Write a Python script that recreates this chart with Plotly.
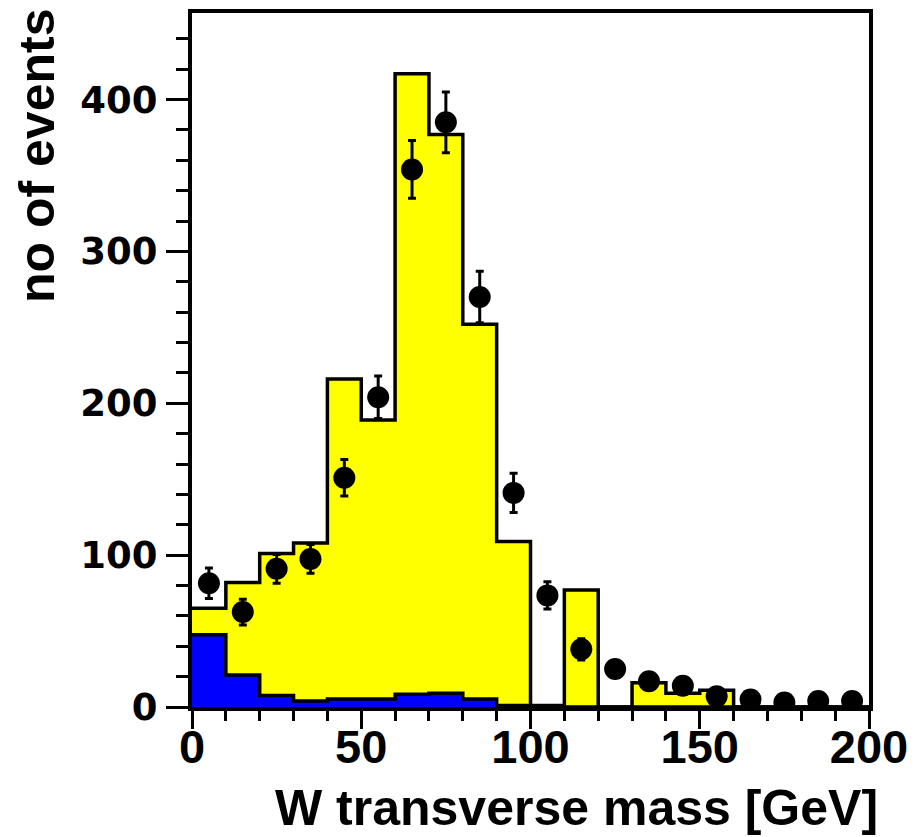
import numpy as np
import plotly.graph_objects as go

# ---- data ----
bin_edges = [0, 10, 20, 30, 40, 50, 60, 70, 80, 90, 100, 110, 120, 130, 140, 150, 160, 170, 180, 190, 200]
mc_total = [65, 82, 101, 108, 216, 189, 417, 377, 252, 109, 1, 77, 0, 16, 9, 11, 0, 0, 0, 0]
mc_background = [47.5, 21, 7.5, 4, 5.3, 5.3, 8.4, 9, 5.3, 1, 0, 0, 0, 0, 0, 0, 0, 0, 0, 0]
data_x = [5, 15, 25, 35, 45, 55, 65, 75, 85, 95, 105, 115, 125, 135, 145, 155, 165, 175, 185, 195]
data_y = [81.5, 62.5, 91, 97.5, 151, 204, 354, 385, 270, 141, 73.5, 38, 25, 17, 14, 7, 5, 3, 4, 4]
data_err = [10, 8.5, 9.5, 9.5, 12, 14, 19, 20, 17, 13, 9, 7, 5, 4, 4, 3, 2, 2, 2, 2]

x_tickvals = [0, 50, 100, 150, 200]
y_tickvals = [0, 100, 200, 300, 400]

def step(vals):
    return list(vals) + [vals[-1]]

fig = go.Figure()
fig.add_trace(go.Scatter(
    x=bin_edges, y=step(mc_total), mode="lines", line=dict(shape="hv", color="black", width=3.5),
    fill="tozeroy", fillcolor="#FFFF00", showlegend=False, hoverinfo="skip"))
fig.add_trace(go.Scatter(
    x=bin_edges, y=step(mc_background), mode="lines", line=dict(shape="hv", color="black", width=3.5),
    fill="tozeroy", fillcolor="#0000FF", showlegend=False, hoverinfo="skip"))
fig.add_trace(go.Scatter(
    x=data_x, y=data_y, mode="markers",
    marker=dict(color="black", size=22, symbol="circle"),
    error_y=dict(type="data", array=data_err, color="black", thickness=3, width=4),
    showlegend=False))

xtickfont = dict(family="Liberation Sans, Arial, sans-serif", size=47, color="black", weight="bold")
ytickfont = dict(family="DejaVu Sans, sans-serif", size=37, color="black", weight="bold")
titlefont = dict(family="Liberation Sans, Arial, sans-serif", size=50, color="black", weight="bold")

fig.update_layout(
    width=917, height=837,
    margin=dict(l=192, r=48, t=13, b=130),
    paper_bgcolor="white", plot_bgcolor="white",
    xaxis=dict(range=[0, 200], tickvals=x_tickvals, ticktext=[str(v) for v in x_tickvals],
               ticks="outside", ticklen=18, tickwidth=3, tickcolor="black",
               minor=dict(dtick=10, ticks="outside", ticklen=10, tickwidth=3, tickcolor="black"),
               showline=True, linewidth=4, linecolor="black", mirror=True, automargin=False,
               showgrid=False, zeroline=False, tickfont=xtickfont, ticklabelstandoff=-22),
    yaxis=dict(range=[0, 457], tickvals=y_tickvals, ticktext=[str(v) for v in y_tickvals],
               ticks="outside", ticklen=22, tickwidth=3, tickcolor="black",
               minor=dict(dtick=20, ticks="outside", ticklen=12, tickwidth=3, tickcolor="black"),
               showline=True, linewidth=4, linecolor="black", mirror=True, automargin=False,
               showgrid=False, zeroline=False, tickfont=ytickfont, ticklabelstandoff=1),
    annotations=[
        dict(text="W transverse mass [GeV]", xref="paper", yref="paper",
             x=(880 - 192) / 677, y=-(808 - 707) / 694, xanchor="right", yanchor="middle",
             showarrow=False, font=titlefont),
        dict(text="no of events", xref="paper", yref="paper", textangle=-90,
             x=(37 - 192) / 677, y=(707 - 156) / 694, xanchor="center", yanchor="middle",
             showarrow=False, font=titlefont),
    ],
)

fig.write_html("out.html")
